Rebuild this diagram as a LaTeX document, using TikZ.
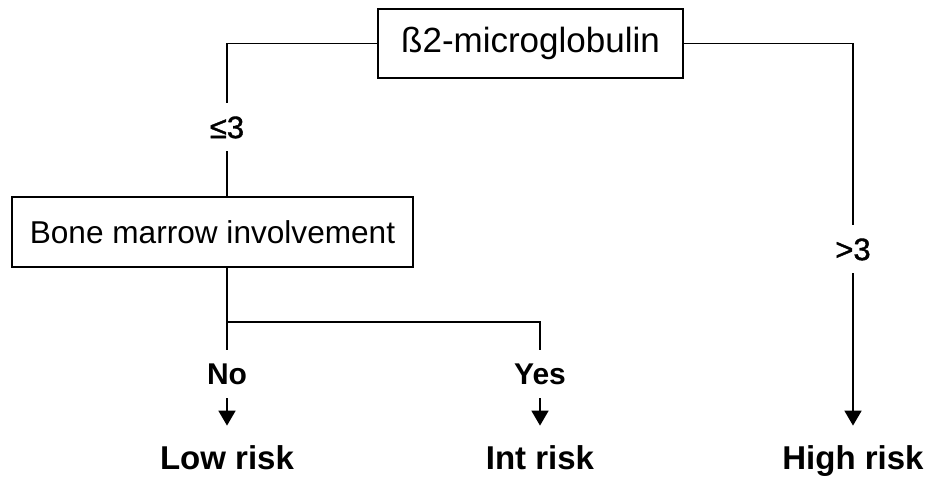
\documentclass[tikz,border=0pt]{standalone}
\usepackage{fontspec}
\setmainfont{Liberation Sans}
\newfontfamily\medfont[FakeBold=1.2]{Liberation Sans}
\usetikzlibrary{arrows.meta,positioning}
\tikzset{
  blk/.style={draw, rectangle, line width=1pt, inner sep=0pt, align=center},
  cond/.style={font=\medfont\fontsize{15.5}{18}\selectfont, inner sep=0pt, minimum height=24pt, text height=11.1pt, text depth=0pt},
  ans/.style={font=\bfseries\fontsize{15}{18}\selectfont, inner sep=0pt, minimum height=24pt, text height=10.7pt, text depth=0pt},
  risk/.style={font=\bfseries\fontsize{16.5}{20}\selectfont, inner sep=0pt, minimum height=32pt, text height=11.8pt, text depth=0pt},
  conn/.style={line width=0.9pt},
  arr/.style={line width=0.9pt, -{Triangle[length=7.5pt, width=8.5pt]}},
}
\begin{document}
\begin{tikzpicture}[x=0.5pt, y=-0.5pt]
\useasboundingbox (0,0) rectangle (930,478);

% Boxes
\node[blk, minimum width=152.5pt, minimum height=34.5pt, font=\fontsize{17.5}{21}\selectfont] (b2m) at (530.5,43.5) {ß2-microglobulin};
\node[blk, minimum width=200.5pt, minimum height=35pt, font=\fontsize{15.8}{19}\selectfont] (bmi) at (212.5,232) {Bone marrow involvement};

% Branch labels
\node[cond] (le3) at (227,127) {≤3};
\node[cond] (gt3) at (853,249) {>3};
\node[ans] (no) at (227,374) {No};
\node[ans] (yes) at (540,374) {Yes};
\coordinate (split) at (227,322);

% Outcomes
\node[risk] (low) at (227,458) {Low risk};
\node[risk] (int) at (540,458) {Int risk};
\node[risk] (high) at (853,458) {High risk};

% Connectors
\draw[conn] (b2m.west) -| (le3.north);
\draw[conn] (le3.south) -- (le3.south |- bmi.north);
\draw[conn] (b2m.east) -| (gt3.north);
\draw[arr] (gt3.south) -- (high.north);
\draw[conn] (le3.south |- bmi.south) -- (no.north);
\draw[conn] (split) -| (yes.north);
\draw[arr] (no.south) -- (low.north);
\draw[arr] (yes.south) -- (int.north);

\end{tikzpicture}
\end{document}
